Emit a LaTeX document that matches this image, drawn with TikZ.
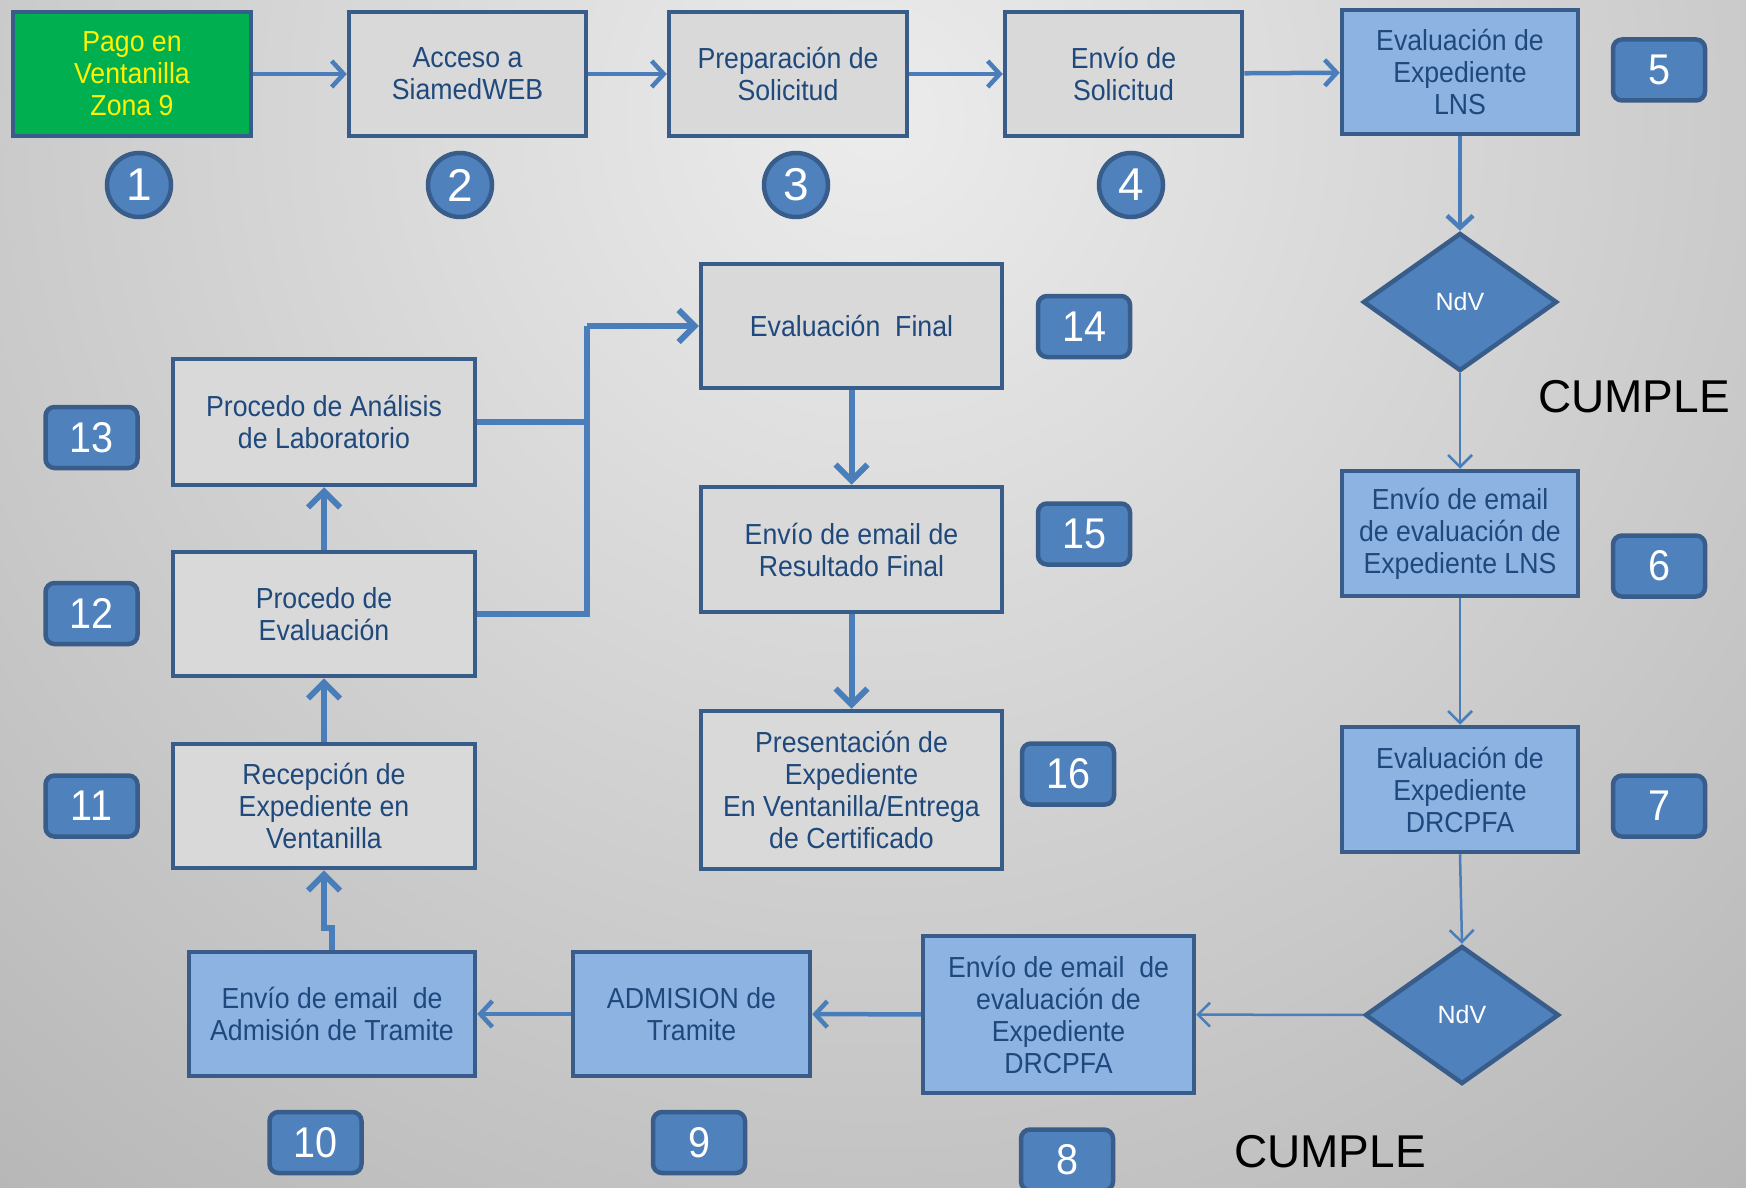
\documentclass[tikz,border=0pt]{standalone}
\usepackage{fontspec}
\setmainfont{Liberation Sans}[FakeStretch=0.92]
\newfontfamily\plainsans{Liberation Sans}
\usetikzlibrary{shapes.geometric, arrows.meta}
\definecolor{boxline}{HTML}{385D8A}
\definecolor{boxgray}{HTML}{D9D9D9}
\definecolor{boxblue}{HTML}{8DB3E2}
\definecolor{badgefill}{HTML}{4F81BD}
\definecolor{boxtext}{HTML}{1F497D}
\definecolor{arrowc}{HTML}{4A7EBB}
\definecolor{greenfill}{HTML}{00B050}
\definecolor{bgtop}{HTML}{ECECEC}
\definecolor{bgbot}{HTML}{8C8C8C}
\tikzset{
  box/.style={draw=boxline, line width=4.5pt, text=boxtext, align=center,
    font=\fontsize{29}{32}\selectfont, inner sep=0pt},
  graybox/.style={box, fill=boxgray},
  bluebox/.style={box, fill=boxblue},
  badge/.style={draw=boxline, fill=badgefill, line width=4.5pt, rounded corners=9pt,
    minimum width=92pt, minimum height=61pt, inner sep=0pt, text=white,
    font=\fontsize{43}{43}\selectfont},
  numcirc/.style={circle, draw=boxline, fill=badgefill, line width=4.5pt,
    minimum size=64pt, inner sep=0pt, text=white, font=\plainsans\fontsize{46}{46}\selectfont},
  ndv/.style={diamond, draw=boxline, fill=badgefill, line width=4.5pt,
    minimum width=194pt, minimum height=138pt, inner sep=0pt, text=white,
    font=\plainsans\fontsize{25}{25}\selectfont},
  cumple/.style={text=black, font=\plainsans\fontsize{46}{46}\selectfont, inner sep=0pt},
  midarrow/.style={draw=arrowc, line width=4.5pt, -{Straight Barb[length=12pt, width=26pt, line width=4.5pt]}},
  thickarrow/.style={draw=arrowc, line width=6pt, -{Straight Barb[length=16pt, width=32pt, line width=6pt]}},
  thinarrow/.style={draw=arrowc, line width=2.5pt, -{Straight Barb[length=12pt, width=24pt, line width=2.5pt]}},
  plainline/.style={draw=arrowc, line width=6pt}
}
\begin{document}
\begin{tikzpicture}[x=1pt, y=-1pt]
\useasboundingbox (0,0) rectangle (1746,1188);
\begin{scope}
\clip (0,0) rectangle (1746,1188);
\shade[inner color=bgtop, outer color=bgbot] (873,120) circle (2500);

% top row
\node[box, fill=greenfill, text=yellow, minimum width=238pt, minimum height=124pt] (b1) at (132,74) {Pago en\\Ventanilla\\Zona 9};
\node[graybox, minimum width=237pt, minimum height=124pt] (b2) at (467.5,74) {Acceso a\\SiamedWEB};
\node[graybox, minimum width=238pt, minimum height=124pt] (b3) at (788,74) {Preparación de\\Solicitud};
\node[graybox, minimum width=237pt, minimum height=124pt] (b4) at (1123.5,74) {Envío de\\Solicitud};
\node[bluebox, minimum width=236pt, minimum height=124pt] (b5) at (1460,72) {Evaluación de\\Expediente\\LNS};

\node[numcirc] (c1) at (139,185) {1};
\node[numcirc] (c2) at (460,185) {2};
\node[numcirc] (c3) at (796,185) {3};
\node[numcirc] (c4) at (1131,185) {4};
\node[badge] (n5) at (1659,70) {5};

% right column
\node[ndv] (d1) at (1460,302) {NdV};
\node[cumple] (cu1) at (1634,397) {CUMPLE};
\node[bluebox, minimum width=236pt, minimum height=125pt] (b6) at (1460,533.5) {Envío de email\\de evaluación de\\Expediente LNS};
\node[badge] (n6) at (1659,566) {6};
\node[bluebox, minimum width=236pt, minimum height=125pt] (b7) at (1460,789.5) {Evaluación de\\Expediente\\DRCPFA};
\node[badge] (n7) at (1659,806) {7};
\node[ndv] (d2) at (1462,1015) {NdV};

% bottom row
\node[bluebox, minimum width=271pt, minimum height=157pt] (b8) at (1058.5,1014.5) {Envío de email~ de\\evaluación de\\Expediente\\DRCPFA};
\node[badge] (n8) at (1067,1160) {8};
\node[cumple] (cu2) at (1330,1152) {CUMPLE};
\node[bluebox, minimum width=237pt, minimum height=124pt] (b9) at (691.5,1014) {ADMISION de\\Tramite};
\node[badge] (n9) at (699,1142.5) {9};
\node[bluebox, minimum width=286pt, minimum height=124pt] (b10) at (332,1014) {Envío de email~ de\\Admisión de Tramite};
\node[badge] (n10) at (315.5,1142.5) {10};

% left column
\node[graybox, minimum width=302pt, minimum height=124pt] (b11) at (324,806) {Recepción de\\Expediente en\\Ventanilla};
\node[badge] (n11) at (91.5,806) {11};
\node[graybox, minimum width=302pt, minimum height=124pt] (b12) at (324,614) {Procedo de\\Evaluación};
\node[badge] (n12) at (91.5,613.5) {12};
\node[graybox, minimum width=302pt, minimum height=126pt] (b13) at (324,422) {Procedo de Análisis\\de Laboratorio};
\node[badge] (n13) at (91.5,437.5) {13};

% middle column
\node[graybox, minimum width=301pt, minimum height=124pt] (b14) at (851.5,326) {Evaluación~ Final};
\node[badge] (n14) at (1084,326.5) {14};
\node[graybox, minimum width=301pt, minimum height=125pt] (b15) at (851.5,549.5) {Envío de email de\\Resultado Final};
\node[badge] (n15) at (1084,534) {15};
\node[graybox, minimum width=301pt, minimum height=158pt] (b16) at (851.5,790) {Presentación de\\Expediente\\En Ventanilla/Entrega\\de Certificado};
\node[badge] (n16) at (1068,774) {16};

\coordinate (jx) at (587,326);

% connectors
\draw[midarrow] (b1) -- (b2);
\draw[midarrow] (b2) -- (b3);
\draw[midarrow] (b3) -- (b4);
\draw[midarrow] (b4) -- (b5);
\draw[midarrow] (b5) -- (d1);
\draw[thinarrow] (d1) -- (b6);
\draw[thinarrow] (b6) -- (b7);
\draw[thinarrow] (b7.south) -- (d2.north);
\draw[thinarrow] (d2) -- (b8);
\draw[midarrow] (b8) -- (b9);
\draw[midarrow] (b9) -- (b10);
\draw[thickarrow] (b10.north) -- ++(0,-22) -| (b11.south);
\draw[thickarrow] (b11) -- (b12);
\draw[thickarrow] (b12) -- (b13);
\draw[plainline] (b13.east) -| (jx);
\draw[plainline] (b12.east) -| (jx);
\draw[thickarrow] (jx) -- (b14.west);
\draw[thickarrow] (b14) -- (b15);
\draw[thickarrow] (b15) -- (b16);
\end{scope}
\end{tikzpicture}
\end{document}
